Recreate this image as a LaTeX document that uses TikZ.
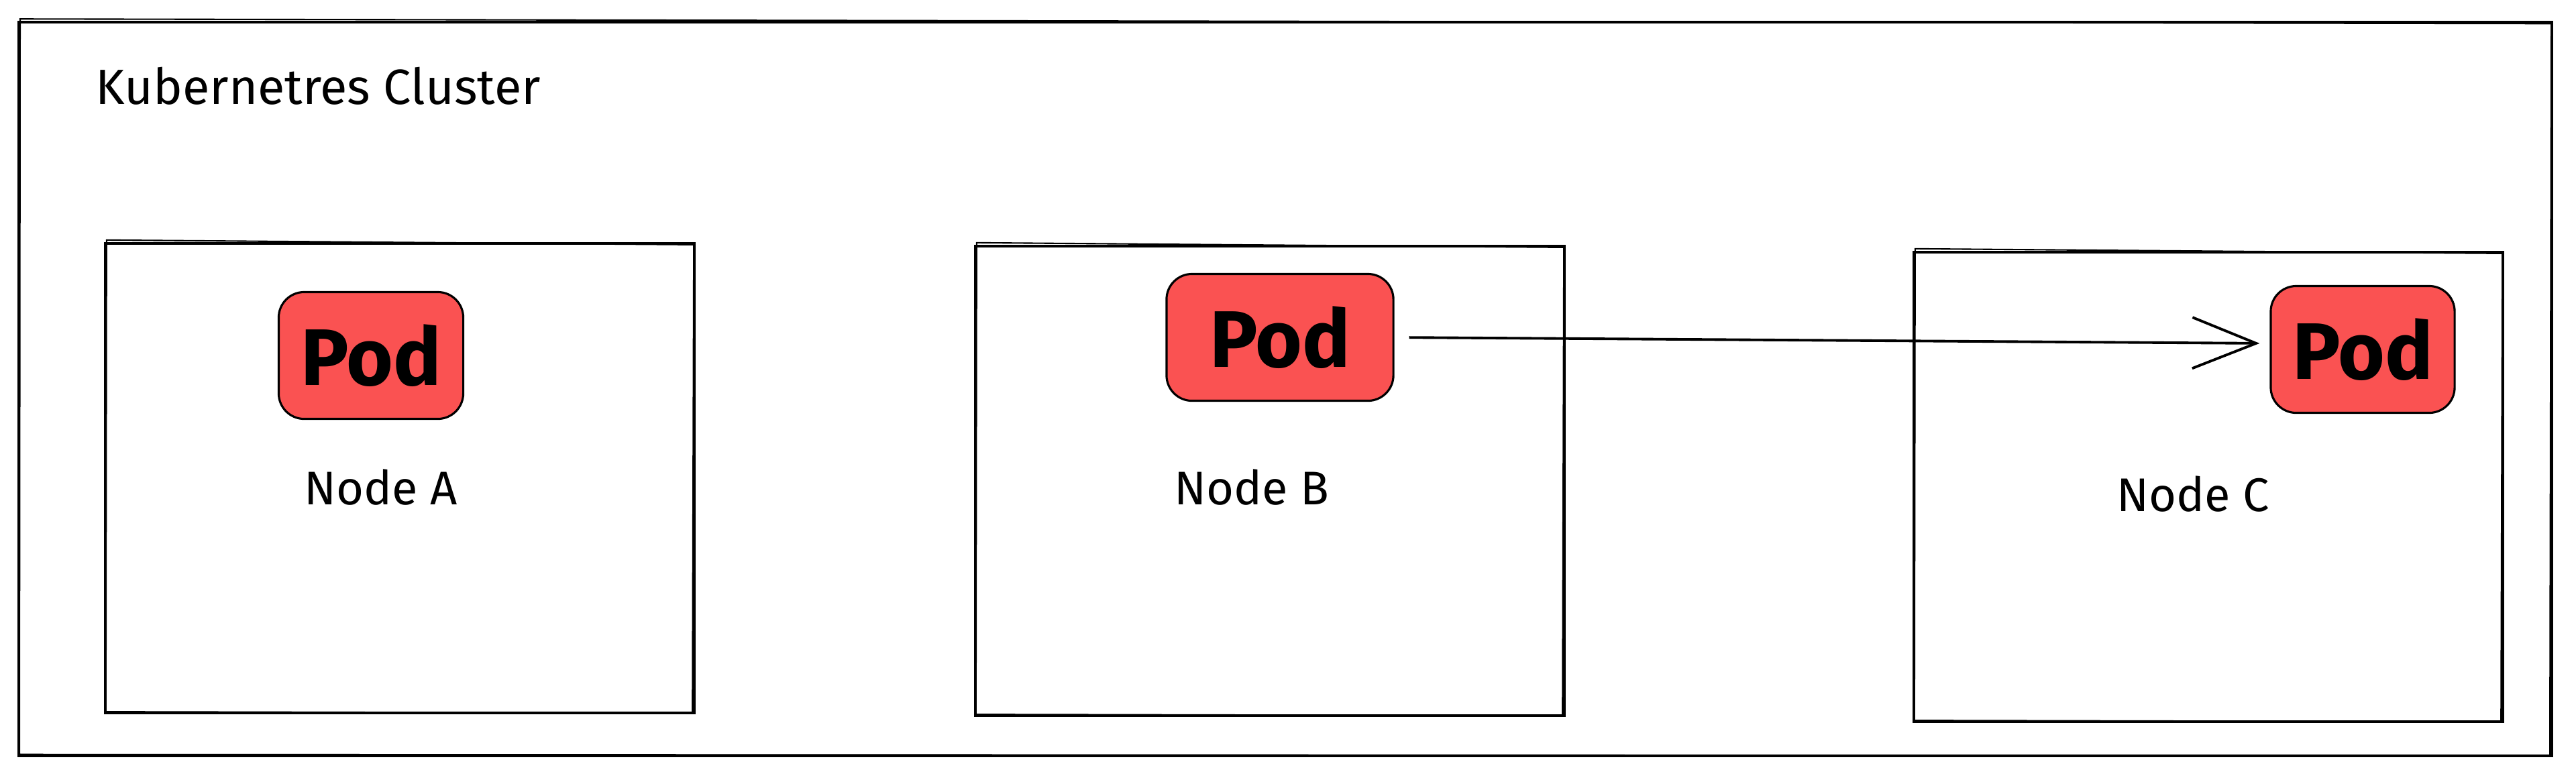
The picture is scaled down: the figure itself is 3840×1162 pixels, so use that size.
\documentclass[tikz,border=0pt]{standalone}
\usepackage{fontspec}
\setmainfont{Fira Sans}
\usetikzlibrary{arrows.meta,positioning}
\definecolor{podred}{HTML}{FA5252}
\newcommand{\strokew}{1.1pt}
\tikzset{
  frame/.style={draw, line width=\strokew, rectangle, inner sep=0pt},
  hostbox/.style={frame, minimum width=8.78cm, minimum height=7.0cm},
  podbox/.style={draw, line width=0.9pt, fill=podred, rounded corners=0.38cm,
    minimum height=1.89cm, inner sep=0pt, font=\fontsize{34}{36}\selectfont\bfseries},
  hostlabel/.style={font=\fontsize{20}{24}\selectfont},
  sendarrow/.style={line width=\strokew, -{Straight Barb[length=0.95cm,width=0.76cm,line width=\strokew]}}
}

\begin{document}
\begin{tikzpicture}[x=0.01cm,y=-0.01cm]
\useasboundingbox[fill=white] (0,0) rectangle (3840,1162);
%cluster
\node[frame, minimum width=37.74cm, minimum height=10.93cm] (cluster) at (1916,580) {};
\node[anchor=west, inner sep=0pt, font=\fontsize{21}{24}\selectfont] (title) at (142,128) {Kubernetres Cluster};
%hosts
\node[hostbox] (hostA) at (596,713) {};
\node[hostbox] (hostB) at (1893,717) {};
\node[hostbox] (hostC) at (3292,726) {};
%sketchy second strokes
\foreach \b in {cluster,hostA,hostB,hostC}
  \draw[line width=0.6pt] ([shift={(4,-3)}]\b.north west) -- ([shift={(-3,4)}]\b.north east)
    -- ([shift={(-5,-2)}]\b.south east) -- ([shift={(3,-4)}]\b.south west) -- cycle;
%pods
\node[podbox, minimum width=2.75cm] (podA) at (553,530) {Pod};
\node[podbox, minimum width=3.38cm] (podB) at (1908,503) {Pod};
\node[podbox, minimum width=2.74cm] (podC) at (3522,521) {Pod};
%labels
\node[hostlabel] (labelA) at (568,727) {Node A};
\node[hostlabel] (labelB) at (1866,727) {Node B};
\node[hostlabel] (labelC) at (3269,737) {Node C};
%traffic
\draw[sendarrow, shorten <=0.22cm, shorten >=0.15cm] (podB.east) -- ([yshift=0.09cm]podC.west);
\end{tikzpicture}
\end{document}
